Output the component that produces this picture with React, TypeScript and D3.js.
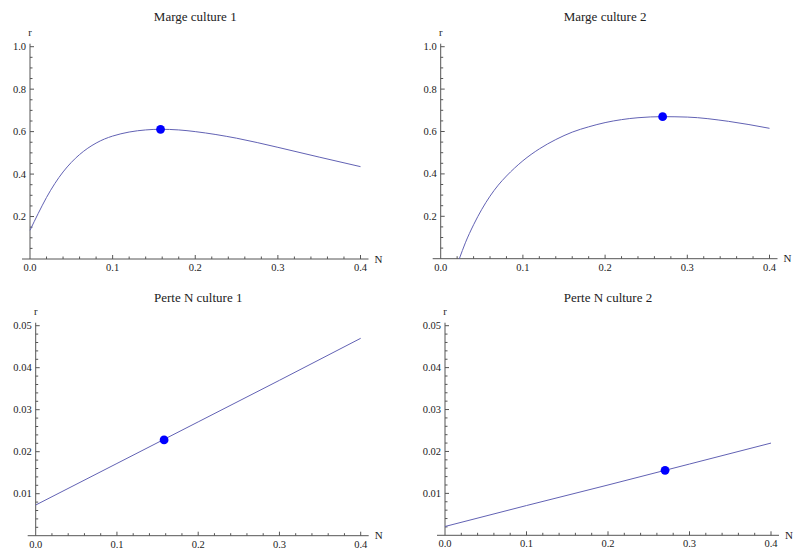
import React from "react";
import * as d3 from "d3";

// ---- Data ----
const margeN1 = [0, 0.01, 0.02, 0.03, 0.04, 0.05, 0.06, 0.07, 0.08, 0.09, 0.1, 0.12, 0.14, 0.158, 0.18, 0.2, 0.25, 0.3, 0.35, 0.4];
const margeR1 = [0.135, 0.215, 0.29, 0.355, 0.41, 0.455, 0.492, 0.522, 0.546, 0.565, 0.579, 0.598, 0.608, 0.611, 0.608, 0.6, 0.569, 0.526, 0.48, 0.435];

const margeN2 = [0.0227, 0.03, 0.04, 0.05, 0.06, 0.07, 0.08, 0.09, 0.1, 0.12, 0.14, 0.16, 0.18, 0.2, 0.22, 0.24, 0.27, 0.3, 0.35, 0.4];
const margeR2 = [0, 0.075, 0.16, 0.233, 0.295, 0.347, 0.39, 0.428, 0.462, 0.518, 0.562, 0.597, 0.622, 0.642, 0.656, 0.665, 0.67, 0.668, 0.648, 0.615];

const perteN1 = [0, 0.1, 0.2, 0.3, 0.4];
const perteR1 = [0.0073, 0.0172, 0.0271, 0.037, 0.047];

const perteN2 = [0, 0.1, 0.2, 0.3, 0.4];
const perteR2 = [0.0021, 0.0071, 0.012, 0.017, 0.022];

const optN = [0.158, 0.27, 0.158, 0.27];
const optR = [0.611, 0.67, 0.0228, 0.0155];

const titles = ["Marge culture 1", "Marge culture 2", "Perte N culture 1", "Perte N culture 2"];
const xTicks = [0, 0.1, 0.2, 0.3, 0.4];
const yTicksMarge = [0.2, 0.4, 0.6, 0.8, 1.0];
const yTicksPerte = [0.01, 0.02, 0.03, 0.04, 0.05];

type PanelProps = {
  title: string;
  xs: number[];
  ys: number[];
  dotX: number;
  dotY: number;
  x0: number;
  x1: number;
  yBottom: number;
  yTop: number;
  yMax: number;
  yTicks: number[];
  yMinorStep: number;
  yFmt: (v: number) => string;
  titleY: number;
  curved: boolean;
};

const FONT = "Liberation Serif, Times New Roman, DejaVu Serif, serif";
const AXIS = "#555";
const TEXT = "#222";

function Panel(p: PanelProps) {
  const x = d3.scaleLinear().domain([0, 0.4]).range([p.x0, p.x1]);
  const y = d3.scaleLinear().domain([0, p.yMax]).range([p.yBottom, p.yTop]);
  const pts = p.xs.map((v, i) => [v, p.ys[i]] as [number, number]);
  const line = d3
    .line<[number, number]>()
    .x((d) => x(d[0]))
    .y((d) => y(d[1]))
    .curve(p.curved ? d3.curveMonotoneX : d3.curveLinear);

  const xMinor = d3.range(0, 0.4001, 0.02).filter((v) => Math.abs(v * 10 - Math.round(v * 10)) > 1e-6);
  const nMinor = Math.round(p.yMax / p.yMinorStep);
  const yMinor = d3
    .range(1, nMinor + 1)
    .map((i) => i * p.yMinorStep)
    .filter((v) => !p.yTicks.some((t) => Math.abs(t - v) < 1e-9));

  return (
    <g style={{ fontFamily: FONT }}>
      <text x={(p.x0 + p.x1) / 2} y={p.titleY} textAnchor="middle" fontSize={13} fill={TEXT}>
        {p.title}
      </text>
      {/* axes */}
      <line x1={p.x0 - 8} x2={p.x1 + 8} y1={p.yBottom} y2={p.yBottom} stroke={AXIS} strokeWidth={1} />
      <line x1={p.x0} x2={p.x0} y1={p.yBottom} y2={p.yTop - 3} stroke={AXIS} strokeWidth={1} />
      {/* x ticks */}
      {xTicks.map((t) => (
        <g key={"xt" + t}>
          {t > 0 && <line x1={x(t)} x2={x(t)} y1={p.yBottom} y2={p.yBottom - 4} stroke={AXIS} />}
          <text x={x(t)} y={p.yBottom + 12} textAnchor="middle" fontSize={10.5} fill={TEXT}>
            {t.toFixed(1)}
          </text>
        </g>
      ))}
      {xMinor.map((t) => (
        <line key={"xm" + t} x1={x(t)} x2={x(t)} y1={p.yBottom} y2={p.yBottom - 2.5} stroke={AXIS} />
      ))}
      {/* y ticks */}
      {p.yTicks.map((t) => (
        <g key={"yt" + t}>
          <line x1={p.x0} x2={p.x0 + 4} y1={y(t)} y2={y(t)} stroke={AXIS} />
          <text x={p.x0 - 4} y={y(t) + 3.5} textAnchor="end" fontSize={10.5} fill={TEXT}>
            {p.yFmt(t)}
          </text>
        </g>
      ))}
      {yMinor.map((t) => (
        <line key={"ym" + t} x1={p.x0} x2={p.x0 + 2.5} y1={y(t)} y2={y(t)} stroke={AXIS} />
      ))}
      {/* axis labels */}
      <text x={p.x0} y={p.yTop - 11} textAnchor="middle" fontSize={10.5} fill={TEXT}>
        r
      </text>
      <text x={p.x1 + 14} y={p.yBottom + 3.5} textAnchor="start" fontSize={11} fill={TEXT}>
        N
      </text>
      {/* curve */}
      <path d={line(pts) || ""} fill="none" stroke="#6262b4" strokeWidth={1} />
      <circle cx={x(p.dotX)} cy={y(p.dotY)} r={4.4} fill="#0000ff" />
    </g>
  );
}

export default function App() {
  const fmt1 = (v: number) => v.toFixed(1);
  const fmt2 = (v: number) => v.toFixed(2);
  return (
    <svg width={797} height={556} style={{ position: "absolute", left: 0, top: 0, background: "#fff" }}>
      <rect width={797} height={556} fill="#fff" />
      <Panel title={titles[0]} xs={margeN1} ys={margeR1} dotX={optN[0]} dotY={optR[0]}
        x0={30} x1={360.5} yBottom={259} yTop={46.7} yMax={1} yTicks={yTicksMarge} yMinorStep={0.05}
        yFmt={fmt1} titleY={21} curved />
      <Panel title={titles[1]} xs={margeN2} ys={margeR2} dotX={optN[1]} dotY={optR[1]}
        x0={440.7} x1={769.5} yBottom={258.7} yTop={46.7} yMax={1} yTicks={yTicksMarge} yMinorStep={0.05}
        yFmt={fmt1} titleY={21} curved />
      <Panel title={titles[2]} xs={perteN1} ys={perteR1} dotX={optN[2]} dotY={optR[2]}
        x0={35.7} x1={360.7} yBottom={535.7} yTop={325.7} yMax={0.05} yTicks={yTicksPerte} yMinorStep={0.002}
        yFmt={fmt2} titleY={302} curved={false} />
      <Panel title={titles[3]} xs={perteN2} ys={perteR2} dotX={optN[3]} dotY={optR[3]}
        x0={445} x1={771} yBottom={535.3} yTop={325.7} yMax={0.05} yTicks={yTicksPerte} yMinorStep={0.002}
        yFmt={fmt2} titleY={302} curved={false} />
    </svg>
  );
}
